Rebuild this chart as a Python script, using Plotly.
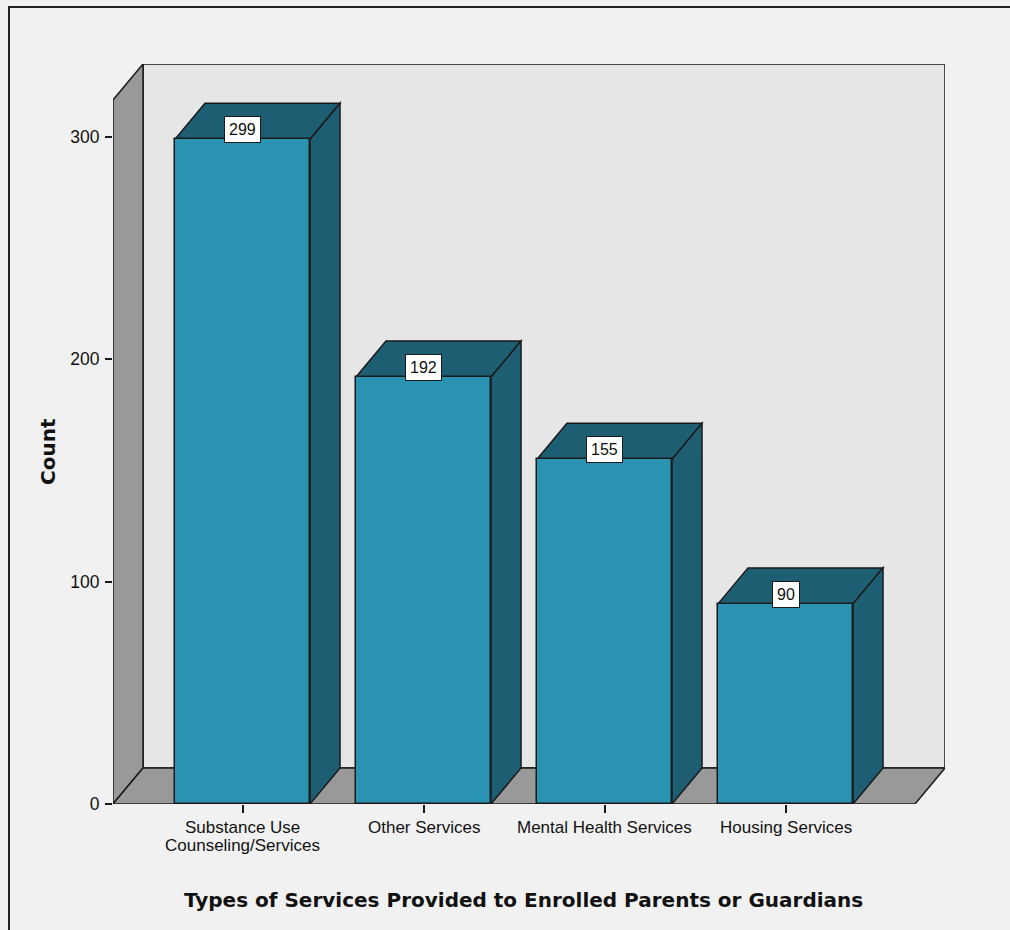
import plotly.graph_objects as go

# ---- data ----
categories = ["Substance Use|Counseling/Services", "Other Services",
              "Mental Health Services", "Housing Services"]
counts = [299, 192, 155, 90]
y_ticks = [0, 100, 200, 300]

# ---- style ----
FRONT = "#2a93b2"
DARK = "#1e5e73"
WALL = "#999999"
BACK = "#e6e6e6"
BG = "#f1f1f1"
EDGE = "#1a1a1a"
W, H = 1010, 930
ML, MR, MT, MB = 113, 65, 64, 126
PW, PH = W - ML - MR, H - MT - MB

X0, X1 = -0.7155, 3.8812
Y0, Y1 = 0, 332.8
# depth offset in pixels -> data units
DPX, DPY = 30, 36
dx = DPX * (X1 - X0) / PW
dy = DPY * (Y1 - Y0) / PH
BW = 0.746
hw = BW / 2
TICKFONT = dict(family="Liberation Sans, Arial", size=17.5, color="#111")
CATFONT = dict(family="Liberation Sans, Arial", size=17, color="#111")
LINE_GAP = 18

def poly(pts, fill):
    path = "M " + " L ".join(f"{x},{y}" for x, y in pts) + " Z"
    return dict(type="path", path=path, xref="x", yref="y", fillcolor=fill,
                line=dict(color=EDGE, width=1.5), layer="below")

def py2paper(py):
    return (H - MB - py) / PH

def px2paper(px):
    return (px - ML) / PW

shapes = []
# back wall
shapes.append(poly([(X0 + dx, Y0 + dy), (X0 + dx, Y1), (X1, Y1), (X1, Y0 + dy)], BACK))
# left wall
shapes.append(poly([(X0, Y0), (X0, Y1 - dy), (X0 + dx, Y1), (X0 + dx, Y0 + dy)], WALL))
# floor
shapes.append(poly([(X0, Y0), (X1 - dx, Y0), (X1, Y0 + dy), (X0 + dx, Y0 + dy)], WALL))
# bar depth faces
for i, v in enumerate(counts):
    shapes.append(poly([(i - hw, v), (i - hw + dx, v + dy), (i + hw + dx, v + dy), (i + hw, v)], DARK))
    shapes.append(poly([(i + hw, 0), (i + hw, v), (i + hw + dx, v + dy), (i + hw + dx, dy)], DARK))

# outer frame (paper coords)
shapes.append(dict(type="rect", xref="paper", yref="paper", x0=px2paper(9), x1=1.2,
                   y0=-0.3, y1=py2paper(7),
                   line=dict(color="#222222", width=2), fillcolor="rgba(0,0,0,0)", layer="below"))

fig = go.Figure()
fig.add_trace(go.Bar(x=list(range(len(counts))), y=counts, width=BW,
                     marker=dict(color=FRONT, line=dict(color=EDGE, width=1.5)),
                     hoverinfo="skip", showlegend=False))

annotations = []
for i, v in enumerate(counts):
    annotations.append(dict(x=i, y=v, xref="x", yref="y", text=str(v), showarrow=False,
                            xanchor="center", yanchor="middle",
                            yshift=9.5, bgcolor="white", bordercolor=EDGE, borderwidth=1,
                            borderpad=4, font=dict(family="Liberation Sans, Arial", size=16, color="#111")))
# category labels (tight line spacing)
for i, cat in enumerate(categories):
    for j, line in enumerate(cat.split("|")):
        annotations.append(dict(x=i, y=py2paper(827 + j * LINE_GAP), xref="x", yref="paper",
                                text=line, showarrow=False, xanchor="center", yanchor="middle",
                                font=CATFONT))
annotations.append(dict(x=px2paper(48), y=py2paper(452), xref="paper", yref="paper",
                        text="<b>Count</b>", textangle=-90, showarrow=False,
                        xanchor="center", yanchor="middle",
                        font=dict(family="DejaVu Sans, Verdana", size=20, color="#111")))
annotations.append(dict(x=px2paper(523), y=py2paper(900), xref="paper", yref="paper",
                        text="<b>Types of Services Provided to Enrolled Parents or Guardians</b>",
                        showarrow=False, xanchor="center", yanchor="middle",
                        font=dict(family="DejaVu Sans, Verdana", size=20, color="#111")))

fig.update_layout(
    width=W, height=H, margin=dict(l=ML, r=MR, t=MT, b=MB, pad=0),
    paper_bgcolor=BG, plot_bgcolor=BG, shapes=shapes, annotations=annotations,
    bargap=0,
    xaxis=dict(range=[X0, X1], tickvals=list(range(len(categories))), showticklabels=False,
               ticks="outside", ticklen=8, tickcolor=EDGE, tickwidth=1.5, showgrid=False,
               zeroline=False, showline=False, fixedrange=True),
    yaxis=dict(range=[Y0, Y1], tickvals=y_ticks, ticks="outside", ticklen=7, tickcolor=EDGE,
               tickwidth=1.5, showgrid=False, zeroline=False, showline=False, fixedrange=True,
               ticklabelstandoff=2, tickfont=TICKFONT),
)

fig.write_html("out.html")
